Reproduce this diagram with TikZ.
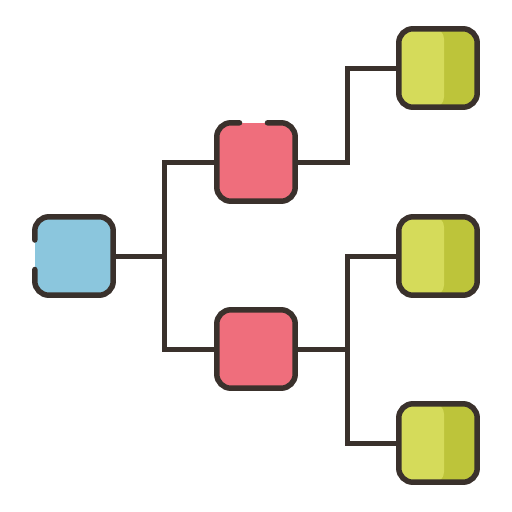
\documentclass[tikz,border=0pt]{standalone}
\usetikzlibrary{calc}
\definecolor{ink}{HTML}{3A312C}
\definecolor{bluef}{HTML}{8BC6DD}
\definecolor{redf}{HTML}{EF6E7C}
\definecolor{lgreen}{HTML}{D5DB5A}
\definecolor{dgreen}{HTML}{BDC43A}
\tikzset{
  box/.style={rectangle, rounded corners=14pt, minimum size=78pt, inner sep=0pt},
  outline/.style={draw=ink, line width=5.5pt, rounded corners=14pt, line cap=round},
  wire/.style={draw=ink, line width=5pt}
}
\begin{document}
\begin{tikzpicture}[x=1pt,y=-1pt]
\useasboundingbox (0,0) rectangle (512,512);
% boxes (fills)
\node[box, fill=bluef] (b) at (74,256) {};
\node[box, fill=redf] (r1) at (256,162) {};
\node[box, fill=redf] (r2) at (256,349) {};
\node[box, fill=dgreen] (g1) at (438,68) {};
\node[box, fill=dgreen] (g2) at (438,256) {};
\node[box, fill=dgreen] (g3) at (438,443) {};
\foreach \g in {g1,g2,g3}{
  \fill[lgreen, rounded corners=10pt] (\g.north west) rectangle ($(\g.south)+(6,0)$);
}
% junctions
\coordinate (j1) at (164,256);
\coordinate (j2) at (347,162);
\coordinate (j3) at (347,349);
% connectors
\draw[wire] (b.east) -- (j1);
\draw[wire] (r1.west) -| (j1) |- (r2.west);
\draw[wire] (r1.east) -- (j2) |- (g1.west);
\draw[wire] (r2.east) -- (j3);
\draw[wire] (g2.west) -| (j3) |- (g3.west);
% outlines
\draw[outline] ($(b.west)+(0,-16)$) |- (b.north east) |- (b.south west) -- ($(b.west)+(0,13.5)$);
\draw[outline] ($(r1.north)+(11.5,0)$) -| (r1.south east) -| (r1.north west) -- ($(r1.north)+(-16.5,0)$);
\draw[outline] (r2.north west) rectangle (r2.south east);
\foreach \g in {g1,g2,g3}{
  \draw[outline] (\g.north west) rectangle (\g.south east);
}
\end{tikzpicture}
\end{document}
